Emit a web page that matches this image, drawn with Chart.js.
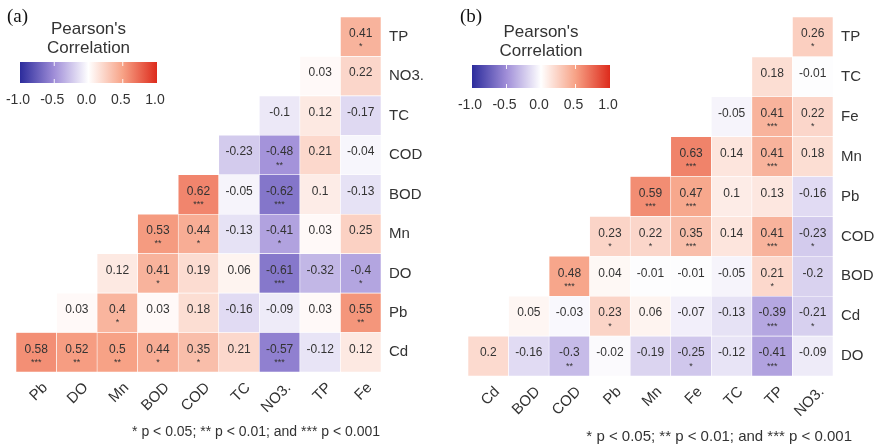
<!DOCTYPE html>
<html>
<head>
<meta charset="utf-8">
<script src="https://cdn.jsdelivr.net/npm/chart.js@4/dist/chart.umd.min.js"></script>
<style>
  body { margin: 0; background: #fff; }
  #wrap { position: relative; width: 877px; height: 448px; }
  canvas { position: absolute; top: 0; }
</style>
</head>
<body>
<div id="wrap">
  <canvas id="chartA" width="437" height="448" style="left:0"></canvas>
  <canvas id="chartB" width="440" height="448" style="left:437px"></canvas>
</div>
<script>
// panel (a): columns left to right, rows top to bottom
var colsA = ["Pb", "DO", "Mn", "BOD", "COD", "TC", "NO3.", "TP", "Fe"];
var rowsA = ["TP", "NO3.", "TC", "COD", "BOD", "Mn", "DO", "Pb", "Cd"];
var corrA = [
    [null, null, null, null, null, null, null, null, 0.41],
    [null, null, null, null, null, null, null, 0.03, 0.22],
    [null, null, null, null, null, null, -0.1, 0.12, -0.17],
    [null, null, null, null, null, -0.23, -0.48, 0.21, -0.04],
    [null, null, null, null, 0.62, -0.05, -0.62, 0.1, -0.13],
    [null, null, null, 0.53, 0.44, -0.13, -0.41, 0.03, 0.25],
    [null, null, 0.12, 0.41, 0.19, 0.06, -0.61, -0.32, -0.4],
    [null, 0.03, 0.4, 0.03, 0.18, -0.16, -0.09, 0.03, 0.55],
    [0.58, 0.52, 0.5, 0.44, 0.35, 0.21, -0.57, -0.12, 0.12]
];
var sigA = [
    ["", "", "", "", "", "", "", "", "*"],
    ["", "", "", "", "", "", "", "", ""],
    ["", "", "", "", "", "", "", "", ""],
    ["", "", "", "", "", "", "**", "", ""],
    ["", "", "", "", "***", "", "***", "", ""],
    ["", "", "", "**", "*", "", "*", "", ""],
    ["", "", "", "*", "", "", "***", "", "*"],
    ["", "", "*", "", "", "", "", "", "**"],
    ["***", "**", "**", "*", "*", "", "***", "", ""]
];

// panel (b)
var colsB = ["Cd", "BOD", "COD", "Pb", "Mn", "Fe", "TC", "TP", "NO3."];
var rowsB = ["TP", "TC", "Fe", "Mn", "Pb", "COD", "BOD", "Cd", "DO"];
var corrB = [
    [null, null, null, null, null, null, null, null, 0.26],
    [null, null, null, null, null, null, null, 0.18, -0.01],
    [null, null, null, null, null, null, -0.05, 0.41, 0.22],
    [null, null, null, null, null, 0.63, 0.14, 0.41, 0.18],
    [null, null, null, null, 0.59, 0.47, 0.1, 0.13, -0.16],
    [null, null, null, 0.23, 0.22, 0.35, 0.14, 0.41, -0.23],
    [null, null, 0.48, 0.04, -0.01, -0.01, -0.05, 0.21, -0.2],
    [null, 0.05, -0.03, 0.23, 0.06, -0.07, -0.13, -0.39, -0.21],
    [0.2, -0.16, -0.3, -0.02, -0.19, -0.25, -0.12, -0.41, -0.09]
];
var sigB = [
    ["", "", "", "", "", "", "", "", "*"],
    ["", "", "", "", "", "", "", "", ""],
    ["", "", "", "", "", "", "", "***", "*"],
    ["", "", "", "", "", "***", "", "***", ""],
    ["", "", "", "", "***", "***", "", "", ""],
    ["", "", "", "*", "*", "***", "", "***", "*"],
    ["", "", "***", "", "", "", "", "*", ""],
    ["", "", "", "*", "", "", "", "***", "*"],
    ["", "", "**", "", "", "*", "", "***", ""]
];

var legendTicks = ["-1.0", "-0.5", "0.0", "0.5", "1.0"];
var footnote = "* p < 0.05; ** p < 0.01; and *** p < 0.001";

// colour scale
var scaleStops = [-1, -0.5, 0, 0.5, 1];
var scaleColors = [[44, 44, 156], [160, 142, 216], [255, 255, 255], [247, 162, 134], [221, 43, 28]];

var SANS = '"Liberation Sans", Arial, sans-serif';
var TXT = "#333333";

function cellColor(v) {
    for (var i = 0; i < scaleStops.length - 1; i++) {
        if (v <= scaleStops[i + 1]) {
            var t = (v - scaleStops[i]) / (scaleStops[i + 1] - scaleStops[i]);
            var a = scaleColors[i], b = scaleColors[i + 1];
            return "rgb(" + Math.round(a[0] + (b[0] - a[0]) * t) + "," +
                Math.round(a[1] + (b[1] - a[1]) * t) + "," +
                Math.round(a[2] + (b[2] - a[2]) * t) + ")";
        }
    }
    return "rgb(221,43,28)";
}

var cellText = {
    id: "cellText",
    afterDatasetsDraw: function(chart) {
        var ctx = chart.ctx;
        ctx.save();
        ctx.fillStyle = TXT;
        ctx.textAlign = "center";
        ctx.textBaseline = "middle";
        chart.data.datasets.forEach(function(ds, i) {
            var meta = chart.getDatasetMeta(i);
            meta.data.forEach(function(el, j) {
                var v = ds.corr[j];
                if (v === null) return;
                var cy = (el.y + el.base) / 2;
                ctx.font = "12px " + SANS;
                ctx.fillText(String(v), el.x, cy - 3);
                if (ds.sig[j]) {
                    ctx.font = "9px " + SANS;
                    ctx.fillText(ds.sig[j], el.x, cy + 10);
                }
            });
        });
        ctx.restore();
    },
    afterDraw: function(chart) {
        var ctx = chart.ctx;
        var p = chart.options.plugins.cellText;
        ctx.save();
        // panel letter
        ctx.fillStyle = "#111";
        ctx.textAlign = "left";
        ctx.textBaseline = "middle";
        ctx.font = "19px \"Liberation Serif\", serif";
        ctx.fillText(p.letter, p.letterX, 17);

        // legend title
        ctx.fillStyle = TXT;
        ctx.textAlign = "center";
        ctx.font = "17px " + SANS;
        var mid = (p.barX0 + p.barX1) / 2;
        ctx.fillText("Pearson's", mid, p.barY0 - 33);
        ctx.fillText("Correlation", mid, p.barY0 - 14);

        // colour bar
        var g = ctx.createLinearGradient(p.barX0, 0, p.barX1, 0);
        scaleStops.forEach(function(s) {
            g.addColorStop((s + 1) / 2, cellColor(s));
        });
        ctx.fillStyle = g;
        ctx.fillRect(p.barX0, p.barY0, p.barX1 - p.barX0, p.barY1 - p.barY0);
        ctx.strokeStyle = "rgba(255,255,255,0.9)";
        ctx.lineWidth = 1;
        [0.25, 0.5, 0.75].forEach(function(f) {
            var x = p.barX0 + f * (p.barX1 - p.barX0);
            ctx.beginPath();
            ctx.moveTo(x, p.barY0); ctx.lineTo(x, p.barY0 + 4);
            ctx.moveTo(x, p.barY1 - 4); ctx.lineTo(x, p.barY1);
            ctx.stroke();
        });
        ctx.fillStyle = TXT;
        ctx.font = "14px " + SANS;
        legendTicks.forEach(function(t, i) {
            var x = p.barX0 + i / (legendTicks.length - 1) * (p.barX1 - p.barX0);
            ctx.fillText(t, x - 2, p.barY1 + 17);
        });

        // footnote
        ctx.textAlign = "right";
        ctx.font = p.footSize + "px " + SANS;
        ctx.fillText(footnote, p.footX, p.footY);
        ctx.restore();
    }
};

function makeHeatmap(id, cols, rows, corr, sig, opt) {
    var datasets = [];
    for (var k = rows.length - 1; k >= 0; k--) {
        datasets.push({
            label: rows[k],
            data: corr[k].map(function(v) { return v === null ? null : 1; }),
            corr: corr[k],
            sig: sig[k],
            backgroundColor: corr[k].map(function(v) { return v === null ? "rgba(0,0,0,0)" : cellColor(v); }),
            borderColor: "#ffffff",
            borderWidth: 0.6,
            borderSkipped: false,
            barPercentage: 1,
            categoryPercentage: 1
        });
    }
    var bottomUp = rows.slice().reverse();

    return new Chart(document.getElementById(id), {
        type: "bar",
        data: { labels: cols, datasets: datasets },
        options: {
            responsive: false,
            animation: false,
            layout: { padding: { left: opt.padLeft, top: opt.padTop, right: 0, bottom: 0 } },
            plugins: {
                legend: { display: false },
                tooltip: { enabled: false },
                cellText: opt
            },
            scales: {
                x: {
                    stacked: true,
                    grid: { display: false, drawTicks: false },
                    border: { display: false },
                    ticks: {
                        color: TXT,
                        font: { family: SANS, size: 15 },
                        minRotation: 45,
                        maxRotation: 45,
                        padding: 7,
                        labelOffset: 9
                    },
                    afterFit: function(s) { s.height = opt.xHeight; }
                },
                y: {
                    stacked: true,
                    position: "right",
                    min: 0,
                    max: rows.length,
                    grid: { display: false, drawTicks: false },
                    border: { display: false },
                    afterBuildTicks: function(axis) {
                        axis.ticks = bottomUp.map(function(r, i) { return { value: i + 0.5 }; });
                    },
                    ticks: {
                        color: TXT,
                        font: { family: SANS, size: 15 },
                        padding: 8,
                        callback: function(val) { return bottomUp[Math.floor(val)]; }
                    },
                    afterFit: function(s) { s.width = opt.yWidth; }
                }
            }
        },
        plugins: [cellText]
    });
}

makeHeatmap("chartA", colsA, rowsA, corrA, sigA, {
    padLeft: 16, padTop: 7, yWidth: 56, xHeight: 76,
    letter: "(a)", letterX: 7,
    barX0: 20, barX1: 157, barY0: 62, barY1: 83,
    footX: 380, footY: 432, footSize: 14
});

makeHeatmap("chartB", colsB, rowsB, corrB, sigB, {
    padLeft: 31, padTop: 10, yWidth: 44, xHeight: 72,
    letter: "(b)", letterX: 23,
    barX0: 35, barX1: 173, barY0: 65, barY1: 88,
    footX: 415, footY: 437, footSize: 15
});
</script>
</body>
</html>
